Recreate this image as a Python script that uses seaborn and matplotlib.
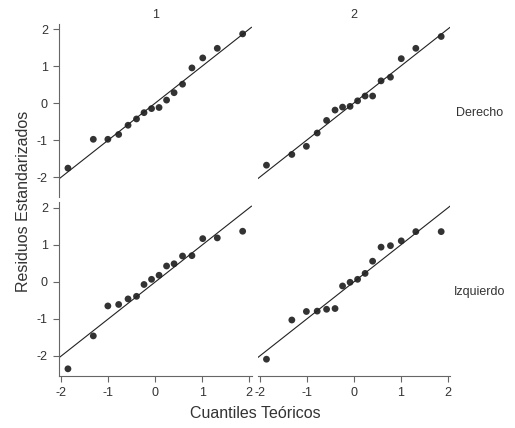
import pandas as pd
import matplotlib
matplotlib.use("Agg")
import matplotlib.pyplot as plt
import seaborn as sns

# theoretical normal quantiles (16 points per panel)
teoricos = [-1.86, -1.32, -1.01, -0.78, -0.58, -0.40, -0.24, -0.08,
            0.08, 0.24, 0.40, 0.58, 0.78, 1.01, 1.32, 1.86]

# standardized residuals
der_1 = [-1.76, -0.98, -0.98, -0.85, -0.60, -0.43, -0.26, -0.15,
         -0.12, 0.08, 0.28, 0.51, 0.95, 1.22, 1.48, 1.87]
der_2 = [-1.68, -1.39, -1.17, -0.81, -0.47, -0.19, -0.11, -0.09,
         0.06, 0.19, 0.19, 0.60, 0.70, 1.20, 1.48, 1.80]
izq_1 = [-2.35, -1.46, -0.65, -0.61, -0.46, -0.39, -0.07, 0.07,
         0.18, 0.43, 0.49, 0.70, 0.71, 1.17, 1.19, 1.37]
izq_2 = [-2.09, -1.03, -0.80, -0.79, -0.74, -0.72, -0.11, -0.01,
         0.07, 0.23, 0.56, 0.94, 0.98, 1.11, 1.36, 1.36]

grupos = ["1", "2"]
lados = ["Derecho", "Izquierdo"]

# Build long table
frames = []
for lado, g1, g2 in [("Derecho", der_1, der_2), ("Izquierdo", izq_1, izq_2)]:
    for grupo, res in zip(grupos, [g1, g2]):
        frames.append(pd.DataFrame({"teorico": teoricos, "residuo": res,
                                    "grupo": grupo, "lado": lado}))
data = pd.concat(frames, ignore_index=True)

sns.set_style("white")
plt.rcParams["font.family"] = ["Liberation Sans", "DejaVu Sans"]
plt.rcParams["axes.unicode_minus"] = False
txt = "#333333"

g = sns.FacetGrid(data, row="lado", col="grupo", row_order=lados,
                  col_order=grupos, sharex=True, sharey=True, despine=False)
g.map_dataframe(sns.scatterplot, x="teorico", y="residuo", color="#333333",
                s=24, edgecolor="none")
g.figure.set_size_inches(5.15, 4.28)
g.figure.subplots_adjust(left=0.1146, right=0.874, top=0.945, bottom=0.121,
                         wspace=0.031, hspace=0.029)
g.set_titles("")
g.set_axis_labels("", "")
g.set(xlim=(-2.05, 2.05), ylim=(-2.55, 2.15),
      xticks=[-2, -1, 0, 1, 2], yticks=[-2, -1, 0, 1, 2])

for i in range(2):
    for j in range(2):
        ax = g.axes[i, j]
        # reference line y = x
        ax.axline((0, 0), slope=1, color="#222222", lw=0.8, zorder=1)
        for s in ax.spines.values():
            s.set_visible(False)
        ax.tick_params(axis="both", labelsize=9, colors=txt, pad=4)
        if j == 0:
            ax.spines["left"].set_visible(True)
            ax.spines["left"].set_color("#666666")
            ax.tick_params(axis="y", left=True, length=4, color="#666666",
                           labelleft=True)
        else:
            ax.tick_params(axis="y", left=False, labelleft=False)
        if i == 1:
            ax.spines["bottom"].set_visible(True)
            ax.spines["bottom"].set_color("#666666")
            ax.tick_params(axis="x", bottom=True, length=4, color="#666666",
                           labelbottom=True)
        else:
            ax.tick_params(axis="x", bottom=False, labelbottom=False)
        if i == 0:
            ax.set_title(grupos[j], fontsize=9, color=txt, pad=4)
        if j == 1:
            ax.text(1.155, 0.485, lados[i], transform=ax.transAxes, fontsize=9,
                    color=txt, ha="center", va="center")

g.figure.text(0.495, 0.035, "Cuantiles Teóricos", ha="center", va="center",
              fontsize=11.5, color=txt)
g.figure.text(0.045, 0.53, "Residuos Estandarizados", ha="center", va="center",
              rotation=90, fontsize=11.5, color=txt)

g.figure.savefig("out.png", dpi=100)
